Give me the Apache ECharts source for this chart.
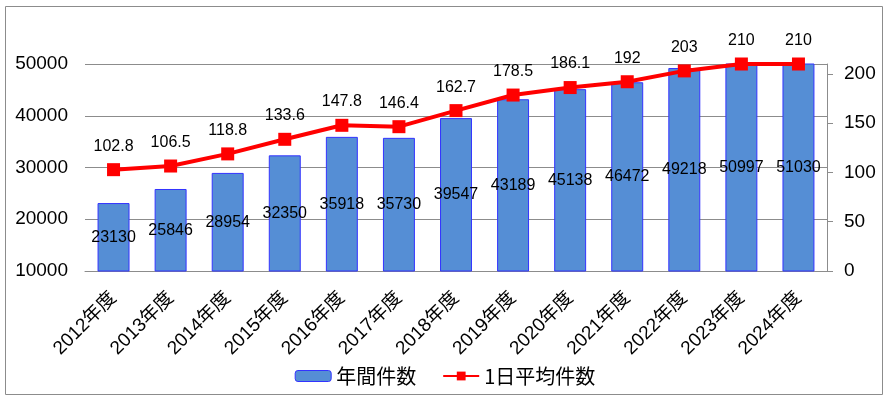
<!DOCTYPE html>
<html>
	<head>
		<meta charset="utf-8">
		<script src="https://cdn.jsdelivr.net/npm/echarts@6/dist/echarts.min.js"></script>
		<title>年間件数</title>
	</head>
	<body>
		<style>
			html,
			body {
				margin: 0;
				background: #fff;
			}
			#main {
				width: 890px;
				height: 398px;
			}
		</style>
		<div id="main"></div>
		<script type="text/javascript">
			// データ
			var years = ['2012年度', '2013年度', '2014年度', '2015年度', '2016年度', '2017年度', '2018年度',
				'2019年度', '2020年度', '2021年度', '2022年度', '2023年度', '2024年度'];
			var annualCounts = [23130, 25846, 28954, 32350, 35918, 35730, 39547, 43189, 45138, 46472, 49218, 50997, 51030];
			var dailyAverage = [102.8, 106.5, 118.8, 133.6, 147.8, 146.4, 162.7, 178.5, 186.1, 192, 203, 210, 210];

			var font = '"Liberation Sans", Arial, "Noto Sans CJK JP", sans-serif';
			var myChart = echarts.init(document.getElementById('main'));

			var option = {
				animation: false,
				textStyle: { fontFamily: font, color: '#000' },
				graphic: [{
					type: 'rect',
					shape: { x: 5.5, y: 6.5, width: 877, height: 388 },
					style: { fill: 'none', stroke: '#8c8c8c', lineWidth: 1 },
					silent: true
				}],
				grid: { left: 85, right: 63, top: 64, bottom: 127 },
				legend: {
					bottom: 7,
					left: 'center',
					itemWidth: 36,
					itemHeight: 11,
					itemGap: 26,
					textStyle: { fontSize: 20, color: '#000', fontFamily: '"Noto Sans CJK JP", sans-serif' },
					data: [
						{ name: '年間件数', itemStyle: { color: '#558ed5', borderColor: '#3333ff', borderWidth: 1 } },
						{ name: '1日平均件数' }
					]
				},
				xAxis: {
					type: 'category',
					data: years,
					axisLine: { lineStyle: { color: '#8c8c8c' } },
					axisTick: { show: false },
					axisLabel: {
						rotate: 45,
						interval: 0,
						fontSize: 19,
						color: '#000',
						margin: 24
					}
				},
				yAxis: [{
					type: 'value',
					min: 10000,
					max: 50000,
					interval: 10000,
					axisLine: { show: false },
					axisTick: { show: false },
					axisLabel: {
						fontSize: 19,
						color: '#000',
						margin: 17,
						formatter: function(v) { return String(v); }
					},
					splitLine: { lineStyle: { color: '#8c8c8c' } }
				}, {
					type: 'value',
					min: 0,
					max: 210,
					interval: 50,
					axisLine: { show: true, lineStyle: { color: '#8c8c8c' } },
					axisTick: { show: true, length: 6, lineStyle: { color: '#8c8c8c' } },
					axisLabel: { fontSize: 19, color: '#000', margin: 17, showMaxLabel: false },
					splitLine: { show: false }
				}],
				series: [{
					name: '年間件数',
					type: 'bar',
					data: annualCounts,
					barWidth: '56%',
					itemStyle: { color: '#558ed5', borderColor: '#3333ff', borderWidth: 1 },
					label: {
						show: true,
						position: 'inside',
						fontSize: 16,
						color: '#000'
					}
				}, {
					name: '1日平均件数',
					type: 'line',
					yAxisIndex: 1,
					data: dailyAverage,
					clip: false,
					symbol: 'rect',
					symbolSize: 13,
					lineStyle: { color: '#ff0000', width: 4 },
					itemStyle: { color: '#ff0000' },
					label: {
						show: true,
						position: 'top',
						distance: 9,
						fontSize: 16,
						color: '#000'
					}
				}]
			};

			myChart.setOption(option);

			window.onresize = function() {
				myChart.resize();
			}
		</script>
	</body>
</html>
